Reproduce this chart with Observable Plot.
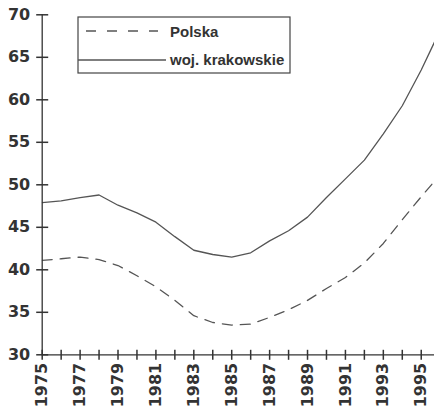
<!DOCTYPE html>
<html>
<head>
<meta charset="utf-8">
<script src="https://cdn.jsdelivr.net/npm/d3@7"></script>
<script src="https://cdn.jsdelivr.net/npm/@observablehq/plot@0.6"></script>
<style>
  html, body { margin: 0; padding: 0; background: #fff; }
  #chart { width: 434px; height: 414px; overflow: hidden; }
</style>
</head>
<body>
<div id="chart"></div>
<script>
const years = [1975,1976,1977,1978,1979,1980,1981,1982,1983,1984,1985,1986,1987,1988,1989,1990,1991,1992,1993,1994,1995,1996];
const polska = [41.1,41.3,41.5,41.2,40.5,39.3,38.0,36.4,34.6,33.8,33.5,33.6,34.4,35.3,36.4,37.8,39.1,40.8,43.1,45.9,48.6,51.2];
const krakowskie = [47.9,48.1,48.5,48.8,47.6,46.7,45.6,43.9,42.3,41.8,41.5,42.0,43.4,44.6,46.2,48.5,50.7,52.9,56.0,59.3,63.5,68.2];
const seriesNames = ["Polska", "woj. krakowskie"];
const yTicks = [30,35,40,45,50,55,60,65,70];
const xTickLabels = [1975,1977,1979,1981,1983,1985,1987,1989,1991,1993,1995];
const xTicksAll = years.slice(0, 21);

const rows = [];
years.forEach((y, i) => {
  rows.push({year: y, value: polska[i], series: seriesNames[0]});
  rows.push({year: y, value: krakowskie[i], series: seriesNames[1]});
});

const W = 434, H = 414, mL = 41.7, mR = 0, mT = 14.3, mB = 59.7;
const xDomain = [1975, 1995.7], yDomain = [30, 70];
const xPer = (xDomain[1] - xDomain[0]) / (W - mL - mR);
const yPer = (yDomain[1] - yDomain[0]) / (H - mT - mB);
const yTickHalf = 6 * xPer;
const xTickHalf = 5 * yPer;

const lineColor = "#555";
const axisColor = "#333";
const textColor = "#333";
const tickFont = {fontFamily: "DejaVu Sans", fontSize: 16, fontWeight: "bold", fill: textColor};

const yTickRows = yTicks.map(v => ({v, a: 1975 - yTickHalf, b: 1975 + yTickHalf}));
const xTickRows = xTicksAll.map(v => ({v, a: 30 - xTickHalf, b: 30 + xTickHalf}));

const plot = Plot.plot({
  width: W,
  height: H,
  marginLeft: mL,
  marginRight: mR,
  marginTop: mT,
  marginBottom: mB,
  style: {background: "#fff", overflow: "hidden"},
  x: {domain: xDomain, label: null},
  y: {domain: yDomain, label: null},
  marks: [
    Plot.line(rows.filter(d => d.series === seriesNames[0]), {x: "year", y: "value", stroke: lineColor, strokeWidth: 1.3, strokeDasharray: "10,8", clip: true}),
    Plot.line(rows.filter(d => d.series === seriesNames[1]), {x: "year", y: "value", stroke: lineColor, strokeWidth: 1.3, clip: true}),
    Plot.ruleX([1975], {stroke: axisColor, strokeWidth: 1.3}),
    Plot.ruleY([30], {stroke: axisColor, strokeWidth: 1.3}),
    Plot.link(yTickRows, {x1: "a", x2: "b", y1: "v", y2: "v", stroke: axisColor, strokeWidth: 1.5}),
    Plot.link(xTickRows, {x1: "v", x2: "v", y1: "a", y2: "b", stroke: axisColor, strokeWidth: 1.5}),
    Plot.axisY({ticks: yTicks, tickSize: 0, tickPadding: 12, label: null, ...tickFont}),
    Plot.axisX({ticks: xTickLabels, tickSize: 0, tickPadding: 8, tickRotate: -90, label: null, tickFormat: d => String(d), ...tickFont})
  ]
});

const svg = d3.select(plot);
const lg = svg.append("g").attr("class", "legend").attr("text-anchor", "start");
lg.append("rect").attr("x", 78).attr("y", 17).attr("width", 212).attr("height", 56)
  .attr("fill", "#fff").attr("stroke", "#444").attr("stroke-width", 1.2);
lg.append("line").attr("x1", 86).attr("x2", 158).attr("y1", 31).attr("y2", 31)
  .attr("stroke", lineColor).attr("stroke-width", 1.3).attr("stroke-dasharray", "10,11");
lg.append("line").attr("x1", 78).attr("x2", 166).attr("y1", 60).attr("y2", 60)
  .attr("stroke", lineColor).attr("stroke-width", 1.3);
const legendFont = (t) => t.attr("font-family", "Liberation Sans, Arial, sans-serif")
  .attr("font-size", 15).attr("font-weight", "bold").attr("fill", textColor).attr("text-anchor", "start");
legendFont(lg.append("text").attr("x", 170).attr("y", 37).text(seriesNames[0]));
legendFont(lg.append("text").attr("x", 170).attr("y", 65).text(seriesNames[1]));

document.getElementById("chart").appendChild(plot);
</script>
</body>
</html>
